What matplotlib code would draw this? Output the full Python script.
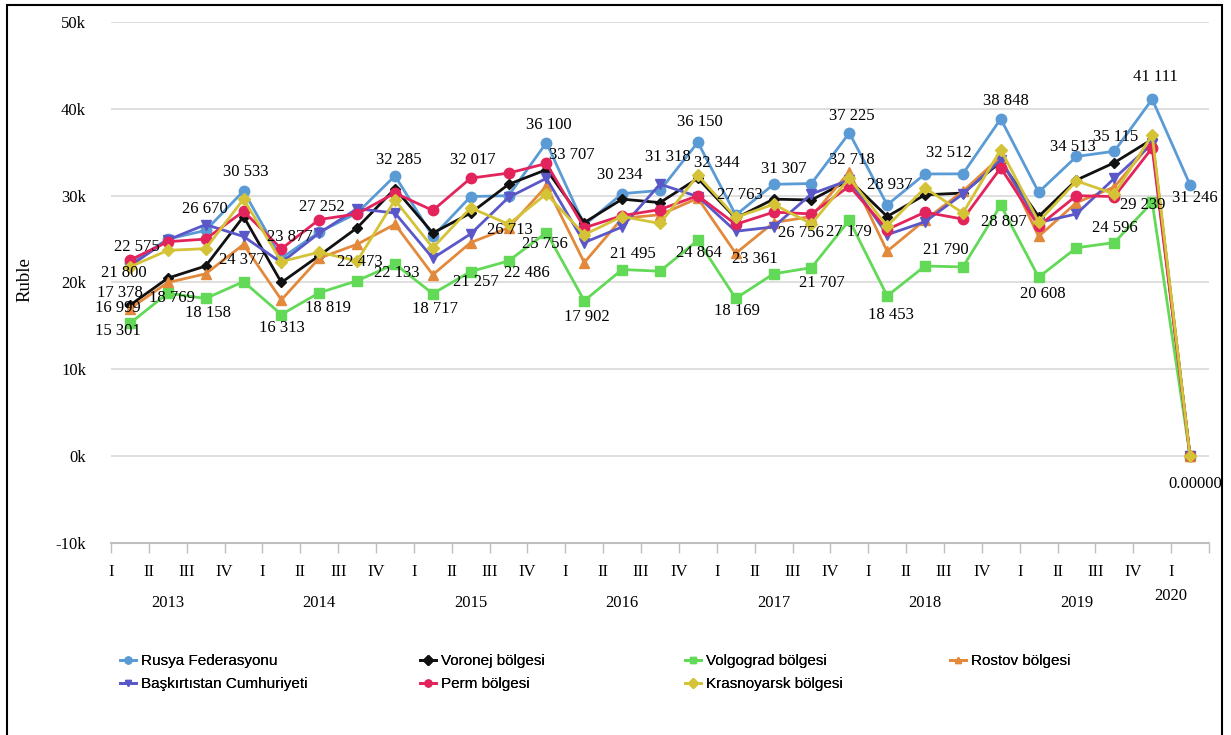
import numpy as np
import matplotlib.pyplot as plt
import matplotlib.transforms as mtransforms
from matplotlib.lines import Line2D
from matplotlib.patches import Rectangle

# çeyrekler ve yıllar
quarters = ['I', 'II', 'III', 'IV'] * 7 + ['I']
years = ['2013', '2014', '2015', '2016', '2017', '2018', '2019', '2020']

# ortalama ücret, ruble
rusya = [22200, 25000, 26000, 30533, 22800, 25800, 28000, 32285, 25300, 29900,
         30000, 36100, 26600, 30234, 30600, 36150, 27763, 31307, 31400, 37225,
         28937, 32500, 32512, 38848, 30400, 34513, 35115, 41111, 31246]
voronej = [17378, 20500, 21900, 27600, 20000, 23100, 26300, 30800, 25700, 28000,
           31300, 33000, 26900, 29600, 29200, 32000, 27400, 29600, 29500, 31800,
           27600, 30100, 30300, 33900, 27600, 31800, 33800, 36500, 0]
volgograd = [15301, 18769, 18158, 20100, 16313, 18819, 20200, 22133, 18717, 21257,
             22486, 25756, 17902, 21495, 21300, 24864, 18169, 21000, 21707, 27179,
             18453, 21900, 21790, 28897, 20608, 24000, 24596, 29239, 0]
rostov = [16999, 20000, 21000, 24377, 18000, 22800, 24400, 26700, 20900, 24600,
          26300, 31100, 22300, 27400, 27800, 29700, 23361, 26900, 27600, 32718,
          23600, 27200, 30500, 34500, 25300, 29200, 31000, 36200, 0]
baskirt = [21900, 24900, 26670, 25300, 22300, 25700, 28500, 28000, 22800, 25600,
           29800, 32000, 24600, 26400, 31318, 29900, 25900, 26400, 30200, 31800,
           25500, 27000, 30200, 34100, 26900, 27900, 32000, 36000, 0]
perm = [22575, 24700, 25000, 28200, 23877, 27252, 27900, 30300, 28300, 32017,
        32600, 33707, 26300, 27700, 28400, 30000, 26700, 28100, 27900, 31100,
        26100, 28100, 27300, 33200, 26500, 30000, 29900, 35500, 0]
krasnoyarsk = [21800, 23700, 23900, 29600, 22400, 23500, 22473, 29500, 24000, 28600,
               26713, 30200, 25500, 27600, 26800, 32344, 27500, 29000, 26756, 32000,
               26500, 30900, 28000, 35300, 27000, 31700, 30200, 37000, 0]

names = ['Rusya Federasyonu', 'Voronej bölgesi', 'Volgograd bölgesi', 'Rostov bölgesi',
         'Başkırtıstan Cumhuriyeti', 'Perm bölgesi', 'Krasnoyarsk bölgesi']

series = {'rusya': rusya, 'voronej': voronej, 'volgograd': volgograd, 'rostov': rostov,
          'baskirt': baskirt, 'perm': perm, 'krasnoyarsk': krasnoyarsk}

# stil: renk, işaret, işaret boyu
styles = {
    'rusya': ('#5B9BD5', 'o', 7.5),
    'voronej': ('#111111', 'D', 5.5),
    'volgograd': ('#62D957', 's', 7),
    'rostov': ('#E3893B', '^', 7.5),
    'baskirt': ('#5A58C8', 'v', 7.5),
    'perm': ('#E3245C', 'o', 7.5),
    'krasnoyarsk': ('#D4C237', 'D', 6.5),
}

# etiketler: seri, nokta, kayma (piksel)
value_labels = [
    ('perm', 0, 7, 13), ('krasnoyarsk', 0, -6, -6), ('voronej', 0, -10, 12),
    ('rostov', 0, -12, 1), ('volgograd', 0, -12, -8), ('volgograd', 1, 4, -5),
    ('volgograd', 2, 2, -15), ('baskirt', 2, -1, 16), ('rusya', 3, 2, 19),
    ('rostov', 3, -2, -16), ('perm', 4, 8, 12), ('volgograd', 4, 0, -13),
    ('perm', 5, 3, 13), ('volgograd', 5, 9, -15), ('krasnoyarsk', 6, 3, -1),
    ('rusya', 7, 4, 16), ('volgograd', 7, 2, -9), ('volgograd', 8, 2, -15),
    ('perm', 9, 2, 18), ('volgograd', 9, 5, -10), ('krasnoyarsk', 10, 1, -6),
    ('volgograd', 10, 18, -12), ('rusya', 11, 2, 18), ('perm', 11, 25, 8),
    ('volgograd', 11, -1, -11), ('volgograd', 12, 3, -16), ('rusya', 13, -2, 19),
    ('volgograd', 13, 11, 16), ('baskirt', 14, 8, 27), ('rusya', 15, 2, 20),
    ('krasnoyarsk', 15, 19, 12), ('volgograd', 15, 1, -13), ('rusya', 16, 4, 20),
    ('rostov', 16, 19, -6), ('volgograd', 16, 1, -13), ('rusya', 17, 10, 15),
    ('krasnoyarsk', 18, -11, -9), ('volgograd', 18, 10, -15), ('rusya', 19, 3, 17),
    ('rostov', 19, 3, 12), ('volgograd', 19, 0, -12), ('rusya', 20, 3, 20),
    ('volgograd', 20, 4, -19), ('rusya', 22, -14, 21), ('volgograd', 22, -17, 17),
    ('rusya', 23, 5, 18), ('volgograd', 23, 3, -17), ('volgograd', 24, 4, -17),
    ('rusya', 25, -4, 9), ('rusya', 26, 1, 14), ('volgograd', 26, 1, 15),
    ('rusya', 27, 3, 22), ('volgograd', 27, -10, -3), ('rusya', 28, 5, -13),
    ('rostov', 28, 5, -28),
]

serif = 'Liberation Serif'

fig = plt.figure(figsize=(12.31, 7.35), dpi=100)
ax = fig.add_axes([111 / 1231, 1 - 543 / 735, 1098 / 1231, 521 / 735])

x = np.arange(len(quarters))
handles = []
for key, name in zip(series, names):
    color, marker, ms = styles[key]
    h, = ax.plot(x, series[key], color=color, marker=marker, markersize=ms,
                 markeredgecolor=color, linewidth=2, label=name, zorder=3)
    handles.append(Line2D([], [], color=color, marker=marker, markersize=5,
                          markeredgecolor=color, linewidth=2))

for key, i, dx, dy in value_labels:
    v = series[key][i]
    txt = '0.00000' if v == 0 else '{:,}'.format(v).replace(',', ' ')
    ax.annotate(txt, (i, v), xytext=(dx, dy), textcoords='offset pixels',
                ha='center', va='center', fontsize=12, family=serif, zorder=10)

# eksenler
ax.set_xlim(-0.5, len(quarters) - 0.5)
ax.set_ylim(-10000, 50000)
yt = np.arange(-10000, 50001, 10000)
ax.set_yticks(yt)
ax.set_yticklabels(['{}k'.format(v // 1000) for v in yt], family=serif, fontsize=12)
ax.tick_params(axis='y', length=0, pad=18)
ax.grid(axis='y', color='#D9D9D9', linewidth=1.2)
ax.set_axisbelow(True)

ax.set_xticks(np.arange(len(quarters) + 1) - 0.5)
ax.set_xticklabels(quarters + [''], family=serif, fontsize=12)
ax.tick_params(axis='x', length=7, width=1, color='#BFBFBF', pad=8)

for s in ['top', 'right', 'left']:
    ax.spines[s].set_visible(False)
ax.spines['bottom'].set_color('#BFBFBF')
ax.spines['bottom'].set_linewidth(1.5)

ax.set_ylabel('Ruble', family=serif, fontsize=13.5)
ax.yaxis.set_label_coords(-0.071, 0.505)

# yıl etiketleri
trans = mtransforms.blended_transform_factory(ax.transData, ax.transAxes)
for k, yr in enumerate(years):
    ticks = np.arange(4 * k, min(4 * k + 4, len(quarters))) - 0.5
    yy = -0.102 if yr == '2020' else -0.115
    ax.text(ticks.mean(), yy, yr, transform=trans, ha='center', va='center',
            family=serif, fontsize=12)

# açıklama: dört sütun
col_x = [120, 420, 685, 950]
order = [[0, 4], [1, 5], [2, 6], [3]]
for cx, idx in zip(col_x, order):
    leg = fig.legend([handles[i] for i in idx], [names[i] for i in idx],
                     loc='upper left', bbox_to_anchor=(cx / 1231, 1 - 654 / 735),
                     frameon=False, borderpad=0, borderaxespad=0,
                     handlelength=1.05, handletextpad=0.3, labelspacing=0.6,
                     prop={'family': 'Liberation Sans', 'size': 11})
    fig.add_artist(leg)

fig.add_artist(Rectangle((7 / 1231, -0.01), 1215 / 1231, 730 / 735 + 0.01,
                         transform=fig.transFigure, fill=False,
                         edgecolor='black', linewidth=1.5))

fig.savefig('out.png', dpi=100)
